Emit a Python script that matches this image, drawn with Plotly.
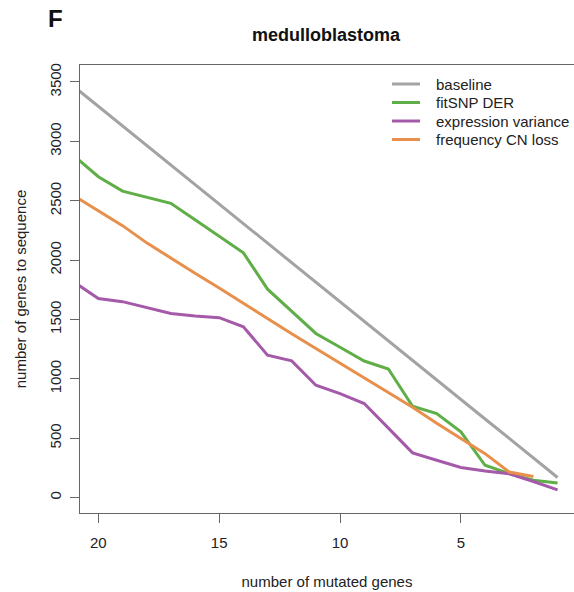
import plotly.graph_objects as go

genes = [21, 20, 19, 18, 17, 16, 15, 14, 13, 12, 11, 10, 9, 8, 7, 6, 5, 4, 3, 2, 1]
baseline = [3459, 3294, 3130, 2965, 2801, 2636, 2472, 2307, 2143, 1978, 1814, 1649,
            1485, 1320, 1156, 991, 827, 662, 498, 333, 169]
fitsnp = [2876, 2702, 2581, 2530, 2478, 2340, 2200, 2061, 1755, 1570, 1382, 1266,
          1150, 1083, 769, 708, 553, 272, 202, 146, 123]
expr_var = [1814, 1677, 1650, 1600, 1551, 1530, 1515, 1438, 1199, 1151, 946, 876,
            792, 585, 376, 314, 253, 224, 200, 135, 65]
cn_genes = [21, 20, 19, 18, 17, 16, 15, 14, 13, 12, 11, 10, 9, 8, 7, 6, 5, 4, 3, 2]
cn_loss = [2540, 2415, 2290, 2145, 2015, 1890, 1765, 1635, 1510, 1380, 1255, 1130,
           1005, 880, 760, 625, 500, 370, 215, 178]

series_names = ["baseline", "fitSNP DER", "expression variance", "frequency CN loss"]
series_colors = ["#a3a3a3", "#5fae48", "#a45aa9", "#e98f4c"]

x_ticks = [20, 15, 10, 5]
y_ticks = [0, 500, 1000, 1500, 2000, 2500, 3000, 3500]

FONT = "Liberation Sans, Arial, sans-serif"
W, H = 574, 592
L, R, T, B = 80, 0, 65, 79
PW, PH = W - L - R, H - T - B

fig = go.Figure()
for xs, ys, nm, col in [(genes, baseline, series_names[0], series_colors[0]),
                        (genes, fitsnp, series_names[1], series_colors[1]),
                        (genes, expr_var, series_names[2], series_colors[2]),
                        (cn_genes, cn_loss, series_names[3], series_colors[3])]:
    fig.add_trace(go.Scatter(x=xs, y=ys, mode="lines", name=nm,
                             line=dict(color=col, width=3), showlegend=False))

fig.update_layout(
    width=W, height=H,
    margin=dict(l=L, r=R, t=T, b=B),
    paper_bgcolor="white", plot_bgcolor="white",
    font=dict(family=FONT, size=15, color="#222222"),
    title=dict(text="<b>medulloblastoma</b>", x=326 / W, xanchor="center",
               y=1 - 35 / H, yanchor="middle", font=dict(size=18, color="#111111")),
    showlegend=False,
    xaxis=dict(range=[20.76, 0.32], tickvals=x_ticks, ticktext=[str(v) for v in x_ticks],
               showgrid=False, zeroline=False, showline=True, mirror=True,
               linecolor="#666666", linewidth=1.3, ticks="outside", ticklen=9,
               tickwidth=1.3, tickcolor="#666666", tickfont=dict(size=15),
               ticklabelstandoff=7,
               title=dict(text="number of mutated genes", standoff=26, font=dict(size=15))),
    yaxis=dict(range=[-130, 3643], tickvals=y_ticks, ticktext=[str(v) for v in y_ticks],
               showgrid=False, zeroline=False, showline=True, mirror=False,
               linecolor="#666666", linewidth=1.3, ticks="outside", ticklen=9,
               tickwidth=1.3, tickcolor="#666666", tickangle=-90, tickfont=dict(size=15),
               ticklabelstandoff=3,
               title=dict(text="number of genes to sequence", standoff=16, font=dict(size=15))),
)

# legend drawn in paper coordinates
leg_rows = [84, 102.5, 121, 139.5]
for py, nm, col in zip(leg_rows, series_names, series_colors):
    yp = 1 - (py - T) / PH
    fig.add_shape(type="line", xref="paper", yref="paper",
                  x0=(392 - L) / PW, x1=(420 - L) / PW, y0=yp, y1=yp,
                  line=dict(color=col, width=3))
    fig.add_annotation(text=nm, xref="paper", yref="paper", x=(434 - L) / PW, y=yp,
                       xanchor="left", yanchor="middle", showarrow=False,
                       font=dict(size=15, color="#222222", family=FONT))

fig.add_annotation(text="<b>F</b>", xref="paper", yref="paper",
                   x=(55 - L) / PW, y=1 + (T - 18) / PH, xanchor="center", yanchor="middle",
                   showarrow=False, font=dict(size=24, color="#111111", family=FONT))

fig.write_html("out.html")
